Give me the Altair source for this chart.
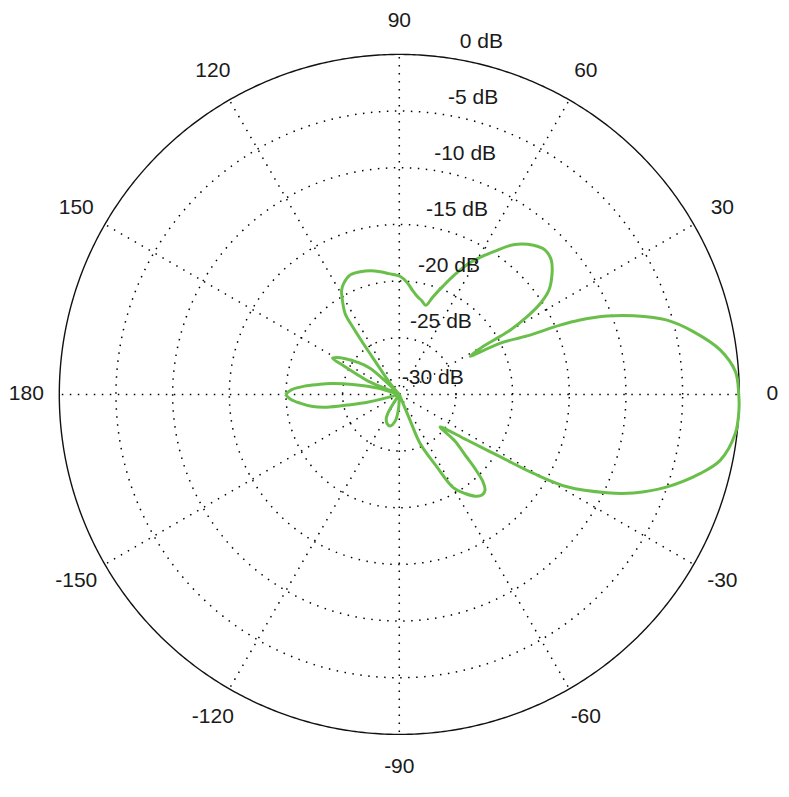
import math
import altair as alt
import pandas as pd

# Antenna pattern: angle (deg) and gain (dB)
angles = [
    -180, -177.5, -175, -172, -170, -168.4, -166, -163,
    -125, -119.4, -112.5, -106.3, -99, -93.6, -88,
    -71, -67.4, -67, -62.6, -59.9, -56.4, -53.3, -50.6, -48.2, -46.3,
    -44.6, -42.8, -40.0, -38.5,
    -34, -31.7, -30.5, -28.85, -25.35, -22.8, -19.04, -14.7, -11.57,
    -6.6, -2.65, 0, 3.85, 7.86, 12, 15.5, 18.55, 20.65, 22.35, 23.3,
    24.6, 26.9, 28.3,
    29.6, 29.9, 30.1, 31.3, 32.8, 34.9, 38.4, 41.5, 44.7, 48, 52.7,
    56.5, 59.6, 62, 65, 68, 71, 73.5,
    76.5, 79.7, 83, 86, 89.5, 95, 98.8, 103, 107.6, 112.3, 116.6, 119,
    120.4, 123.8, 124.6, 125.3, 126.2, 129.5, 133,
    135, 138.4, 142.6, 146.5, 149.5, 151.5, 152.8, 154.5, 157, 161,
    164, 168, 171, 173, 175, 177.5, 180,
]
gains = [
    -19.95, -20.4, -21.2, -22.3, -23.5, -25.3, -27.2, -30,
    -30, -27.7, -27.2, -27.1, -27.6, -28.6, -30,
    -30, -27.5, -25.3, -22.8, -20.5, -19.5, -18.8, -18.5, -18.65, -19.3,
    -20.5, -22.0, -23.6, -25.4,
    -22.8, -19.5, -16.25, -13.1, -9.72, -7.57, -5.0, -2.53, -1.08,
    -0.15, 0.0, -0.05, -0.27, -1.4, -3.44, -5.48, -8.19, -10.4, -12.75, -14.55,
    -17.6, -20.0, -22.9,
    -21.8, -20.4, -18.7, -16.8, -15.2, -13.9, -12.8, -12.1, -11.9, -12.3, -13.4,
    -14.9, -16.0, -16.9, -18.3, -19.7, -20.9, -21.8,
    -21.5, -21.2, -20.7, -20.1, -19.6, -19.3, -19.05, -18.8, -18.64, -18.6, -19.04, -19.5,
    -20.0, -21.4, -22.7, -24.5, -26.6, -28.7, -30,
    -30, -26.5, -25.3, -24.3, -23.6, -23.3, -24.5, -25.8, -27.0, -30,
    -28.0, -25.8, -23.9, -22.8, -21.6, -20.5, -19.95,
]

ring_db = [0, -5, -10, -15, -20, -25, -30]
ring_labels = ["0 dB", "-5 dB", "-10 dB", "-15 dB", "-20 dB", "-25 dB", "-30 dB"]
spoke_angles = [0, 30, 60, 90, 120, 150, 180, 210, 240, 270, 300, 330]
spoke_labels = ["0", "30", "60", "90", "120", "150", "180",
                "-150", "-120", "-90", "-60", "-30"]

R = 340.0        # pixel radius of the 0 dB circle
FLOOR = -30.0
LABEL_R = 373.0

W, H = 772, 780
CX, CY = 391.3, 386.4  # centre inside the plot area (from left / top)
xdom = [-CX, W - CX]
ydom = [-(H - CY), CY]


def rad(db):
    return max(db - FLOOR, 0.0) / (0.0 - FLOOR) * R


pat = pd.DataFrame({
    "i": list(range(len(angles))),
    "x": [rad(g) * math.cos(math.radians(a)) for a, g in zip(angles, gains)],
    "y": [rad(g) * math.sin(math.radians(a)) for a, g in zip(angles, gains)],
})

ring_rows = []
for db in ring_db[1:-1]:
    r = rad(db)
    for k in range(0, 361):
        t = math.radians(k)
        ring_rows.append({"ring": db, "k": k, "x": r * math.cos(t), "y": r * math.sin(t)})
rings = pd.DataFrame(ring_rows)

outer = pd.DataFrame([{"k": k, "x": R * math.cos(math.radians(k / 2)),
                       "y": R * math.sin(math.radians(k / 2))} for k in range(0, 721)])

spokes = pd.DataFrame({
    "x": [0.0] * len(spoke_angles),
    "y": [0.0] * len(spoke_angles),
    "x2": [R * math.cos(math.radians(a)) for a in spoke_angles],
    "y2": [R * math.sin(math.radians(a)) for a in spoke_angles],
})

spoke_text = pd.DataFrame({
    "t": spoke_labels,
    "x": [LABEL_R * math.cos(math.radians(a)) for a in spoke_angles],
    "y": [LABEL_R * math.sin(math.radians(a)) for a in spoke_angles],
})

ca, sa = math.cos(math.radians(81.8)), math.sin(math.radians(81.8))
ring_text = pd.DataFrame({
    "t": ring_labels,
    "x": [rad(d) * ca + 33.5 for d in ring_db],
    "y": [rad(d) * sa + 16.0 for d in ring_db],
})

X = lambda f="x": alt.X(f"{f}:Q", scale=alt.Scale(domain=xdom, nice=False, zero=False), axis=None)
Y = lambda f="y": alt.Y(f"{f}:Q", scale=alt.Scale(domain=ydom, nice=False, zero=False), axis=None)

dot = dict(color="#000000", strokeWidth=1.5, strokeDash=[1.5, 6.5], strokeCap="butt")

ring_layer = alt.Chart(rings).mark_line(**dot).encode(
    x=X(), y=Y(), detail="ring:N", order="k:Q")

spoke_layer = alt.Chart(spokes).mark_rule(**dot).encode(
    x=X(), y=Y(), x2="x2:Q", y2="y2:Q")

outer_layer = alt.Chart(outer).mark_line(color="#111111", strokeWidth=1.4).encode(
    x=X(), y=Y(), order="k:Q")

pattern_layer = alt.Chart(pat).mark_line(
    color="#6abf4b", strokeWidth=3, strokeJoin="round", interpolate="catmull-rom").encode(
    x=X(), y=Y(), order="i:Q")

font = dict(font="Liberation Sans", fontSize=21, color="#1a1a1a",
            align="center", baseline="middle")

spoke_text_layer = alt.Chart(spoke_text).mark_text(**font).encode(
    x=X(), y=Y(), text="t:N")
ring_text_layer = alt.Chart(ring_text).mark_text(**font).encode(
    x=X(), y=Y(), text="t:N")

chart = alt.layer(
    ring_layer, spoke_layer, outer_layer, pattern_layer,
    spoke_text_layer, ring_text_layer,
).properties(width=W, height=H, padding=0, background="white").configure_view(stroke=None)

chart.save("out.html", embed_options={"renderer": "svg", "actions": False})
